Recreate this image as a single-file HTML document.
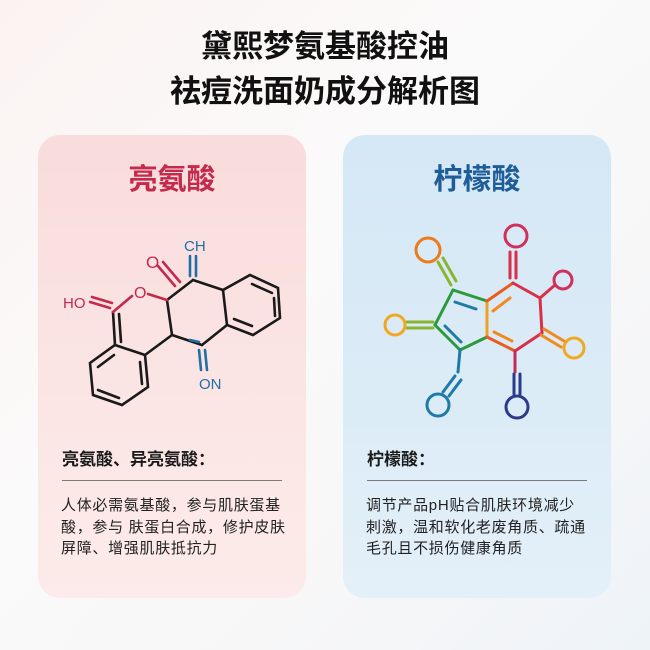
<!DOCTYPE html>
<html><head><meta charset="utf-8"><style>
body{margin:0;width:650px;height:650px;overflow:hidden;font-family:"Liberation Sans","Noto Sans CJK SC",sans-serif;
background:linear-gradient(135deg,#fbf3f2 0%,#fbfafa 40%,#f7f7f8 70%,#eef3f8 100%);position:relative}
.t{position:absolute;left:0;width:650px;text-align:center;font-size:31px;font-weight:bold;color:#111;line-height:1}
.card{position:absolute;top:135px;width:268px;height:463px;border-radius:22px}
.l{left:38px;background:linear-gradient(180deg,#f9dcdc 0%,#fbe6e5 60%,#fcebea 100%)}
.r{left:343px;background:linear-gradient(180deg,#d5e8f6 0%,#dcecf7 60%,#e4f0f9 100%)}
.h{position:absolute;top:28px;left:0;width:100%;text-align:center;font-size:29px;font-weight:bold;line-height:34px}
.s{position:absolute;left:24px;top:314px;font-size:17px;font-weight:bold;color:#1a1a1a;line-height:22px}
.line{position:absolute;left:24px;width:220px;top:345px;border-top:1.3px solid #7a7a7a}
.b{position:absolute;left:23px;top:360px;width:232px;font-size:15px;line-height:21.5px;color:#222;letter-spacing:0.7px}
svg{position:absolute;left:0;top:0}
</style></head><body>
<div class="t" style="top:31px">黛熙梦氨基酸控油</div>
<div class="t" style="top:76px">祛痘洗面奶成分解析图</div>
<div class="card l"><div class="h" style="color:#c42a4c">亮氨酸</div>
<div class="s">亮氨酸、异亮氨酸：</div><div class="line"></div>
<div class="b">人体必需氨基酸，参与肌肤蛋基酸，参与 肤蛋白合成，修护皮肤屏障、增强肌肤抵抗力</div></div>
<div class="card r"><div class="h" style="color:#1f5d99">柠檬酸</div>
<div class="s">柠檬酸：</div><div class="line"></div>
<div class="b" style="width:224px">调节产品pH贴合肌肤环境减少刺激，温和软化老废角质、疏通毛孔且不损伤健康角质</div></div>
<svg width="650" height="650" fill="none" stroke-width="2.6" stroke-linecap="round">
<g stroke="#1a1a1a">
<polygon points="90,363 115,345 145,355 148,387 122,405 93,395"/>
<line x1="98" y1="367" x2="114" y2="355"/><line x1="140" y1="362" x2="142" y2="384"/><line x1="98" y1="390" x2="119" y2="398"/>
<polygon points="223,290 250,275 278,288 280,318 253,335 227,325"/>
<line x1="252" y1="284" x2="272" y2="293"/><line x1="274" y1="298" x2="275" y2="316"/><line x1="234" y1="319" x2="252" y2="326"/>
<line x1="115" y1="345" x2="113" y2="312"/><line x1="121" y1="342" x2="119" y2="314"/>
<line x1="145" y1="355" x2="172" y2="335"/><line x1="172" y1="335" x2="167" y2="300"/>
<line x1="167" y1="300" x2="193" y2="280"/><line x1="193" y1="280" x2="223" y2="290"/>
<line x1="172" y1="335" x2="202" y2="345"/><line x1="202" y1="345" x2="227" y2="325"/>
</g>
<g stroke="#c42a4c">
<line x1="113" y1="312" x2="132" y2="296"/><line x1="148" y1="294" x2="167" y2="300"/>
<line x1="90" y1="302" x2="110" y2="308"/><line x1="92" y1="297" x2="112" y2="303"/>
<line x1="158" y1="266" x2="175" y2="286"/><line x1="163" y1="262" x2="180" y2="282"/>
</g>
<g stroke="#1f6fa5">
<line x1="190" y1="256" x2="190" y2="276"/><line x1="196" y1="256" x2="196" y2="276"/>
<line x1="199" y1="350" x2="201" y2="370"/><line x1="205" y1="350" x2="207" y2="370"/>
<line x1="190" y1="340" x2="199" y2="342"/>
</g>
<text x="63" y="308" font-size="15" fill="#c42a4c" stroke="none" font-family="Liberation Sans">HO</text>
<text x="134" y="298" font-size="16" fill="#c42a4c" stroke="none" font-family="Liberation Sans">O</text>
<text x="146" y="268" font-size="17" fill="#c42a4c" stroke="none" font-family="Liberation Sans">O</text>
<text x="184" y="251" font-size="15" fill="#1f6fa5" stroke="none" font-family="Liberation Sans">CH</text>
<text x="199" y="389" font-size="15" fill="#1f6fa5" stroke="none" font-family="Liberation Sans">ON</text>
<g stroke-width="3">
<line x1="453" y1="290" x2="487" y2="301" stroke="#2a9a3a"/>
<line x1="453" y1="290" x2="435" y2="325" stroke="#2a9a3a"/>
<line x1="435" y1="325" x2="460" y2="350" stroke="#2a9a3a"/>
<line x1="460" y1="350" x2="487" y2="337" stroke="#2a9a3a"/>
<line x1="455" y1="302" x2="476" y2="309" stroke="#1f7aa8"/>
<line x1="445" y1="326" x2="461" y2="342" stroke="#1f7aa8"/>
<line x1="487" y1="301" x2="487" y2="337" stroke="#f0a020"/>
<line x1="487" y1="301" x2="513" y2="283" stroke="#ec5a1e"/>
<line x1="493" y1="311" x2="510" y2="298" stroke="#f08a20"/>
<line x1="513" y1="283" x2="540" y2="298" stroke="#d83048"/>
<line x1="540" y1="298" x2="542" y2="333" stroke="#d83048"/>
<line x1="542" y1="333" x2="515" y2="351" stroke="#d83048"/>
<line x1="515" y1="351" x2="487" y2="337" stroke="#ec5a1e"/>
<line x1="512" y1="341" x2="494" y2="332" stroke="#f08a20"/>
<line x1="438" y1="262" x2="451" y2="285" stroke="#8ab530"/><line x1="443" y1="258" x2="456" y2="281" stroke="#8ab530"/>
<line x1="407" y1="322" x2="433" y2="322" stroke="#8ab530"/><line x1="407" y1="328" x2="433" y2="328" stroke="#8ab530"/>
<line x1="510" y1="252" x2="510" y2="278" stroke="#d83048"/><line x1="516" y1="252" x2="516" y2="278" stroke="#d83048"/>
<line x1="540" y1="298" x2="555" y2="285" stroke="#d83048"/>
<line x1="544" y1="329" x2="564" y2="341" stroke="#f08a20"/><line x1="541" y1="335" x2="561" y2="347" stroke="#f08a20"/>
<line x1="460" y1="350" x2="458" y2="372" stroke="#1f7aa8"/>
<line x1="455" y1="376" x2="443" y2="392" stroke="#1f7aa8"/><line x1="461" y1="380" x2="449" y2="396" stroke="#1f7aa8"/>
<line x1="515" y1="351" x2="515" y2="372" stroke="#c42a5c"/>
<line x1="514" y1="374" x2="514" y2="394" stroke="#2b3a8a"/><line x1="520" y1="374" x2="520" y2="394" stroke="#2b3a8a"/>
<circle cx="428" cy="250" r="12" stroke="#ec7a1e"/>
<circle cx="516" cy="236" r="11" stroke="#d0305a"/>
<circle cx="563" cy="280" r="9" stroke="#d0305a"/>
<circle cx="395" cy="325" r="10" stroke="#f0a820"/>
<circle cx="574" cy="348" r="10" stroke="#f0a820"/>
<circle cx="438" cy="405" r="11" stroke="#1f7aa8"/>
<circle cx="517" cy="407" r="11" stroke="#2b3a8a"/>
</g>
</svg>
</body></html>
